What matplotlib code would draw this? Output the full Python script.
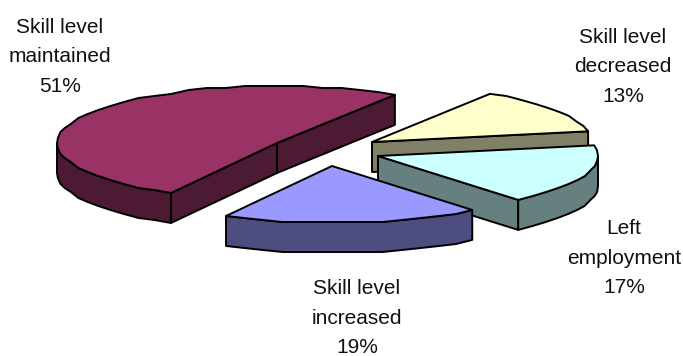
# -*-coding:utf-8 -*
"""Camembert 3D éclaté : évolution du niveau de compétence."""

import numpy as np
import matplotlib.pyplot as plt
from matplotlib.patches import Polygon

plt.rcParams['font.family'] = ['Liberation Sans', 'DejaVu Sans']

# Données
labels = ["Skill level\nmaintained\n51%", "Skill level\ndecreased\n13%",
          "Left\nemployment\n17%", "Skill level\nincreased\n19%"]
values = [51, 13, 17, 19]
top_colors = ["#993366", "#FFFFCC", "#CCFFFF", "#9999FF"]
side_colors = ["#4D1A33", "#808066", "#668080", "#4D4D80"]

# Centre de chaque part (éclatement) et position des étiquettes, en pixels
centers = [(277, 143), (372, 142), (378, 156), (332, 166)]
label_pos = [(60, 57), (623, 67), (624, 258), (357, 318)]

rx, ry = 220, 57        # demi-axes de l'ellipse
depth = 30              # épaisseur du camembert
start = 241.2           # angle de départ, sens horaire


def arc(cx, cy, t1, t2, dy=0):
    """Points de l'ellipse entre t1 et t2 (degrés), arrondis comme un tracé basse résolution."""
    n = max(int(abs(t2 - t1) / 5), 1)
    t = np.radians(np.linspace(t1, t2, n + 1))
    x = cx + rx * np.cos(t)
    y = cy - ry * np.sin(t) + dy
    y[1:-1] = np.round(y[1:-1] / 2) * 2
    return np.column_stack([x, y])


def wall(ax, cx, cy, t, color):
    """Face plane radiale de la part."""
    p = arc(cx, cy, t, t)[0]
    pts = [(cx, cy), tuple(p), (p[0], p[1] + depth), (cx, cy + depth)]
    ax.add_patch(Polygon(pts, fc=color, ec="black", lw=1.4, joinstyle="round"))


fig = plt.figure(figsize=(6.83, 3.56), dpi=100)
ax = fig.add_axes([0, 0, 1, 1])
ax.set_xlim(0, 683)
ax.set_ylim(356, 0)
ax.axis("off")

angle = start
for value, top, side, (cx, cy) in zip(values, top_colors, side_colors, centers):
    hi = angle
    lo = angle - value * 3.6
    angle = lo

    # Faces radiales tournées vers l'observateur
    if np.sin(np.radians(hi + 90)) < 0:
        wall(ax, cx, cy, hi, side)
    if np.sin(np.radians(lo - 90)) < 0:
        wall(ax, cx, cy, lo, side)

    # Bord extérieur visible (partie avant de l'ellipse)
    for k in [-1, 0]:
        a = max(lo, 180 + 360 * k)
        b = min(hi, 360 + 360 * k)
        if a < b:
            front = arc(cx, cy, a, b)
            back = arc(cx, cy, a, b, depth)[::-1]
            ax.add_patch(Polygon(np.vstack([front, back]), fc=side, ec="black",
                                 lw=1.4, joinstyle="round"))

    # Dessus de la part
    pts = np.vstack([[(cx, cy)], arc(cx, cy, lo, hi)])
    ax.add_patch(Polygon(pts, fc=top, ec="black", lw=1.4, joinstyle="round"))

for text, (x, y) in zip(labels, label_pos):
    ax.text(x, y, text, ha="center", va="center", fontsize=15,
            linespacing=1.7, color="#111111")

fig.savefig("out.png", dpi=100)
